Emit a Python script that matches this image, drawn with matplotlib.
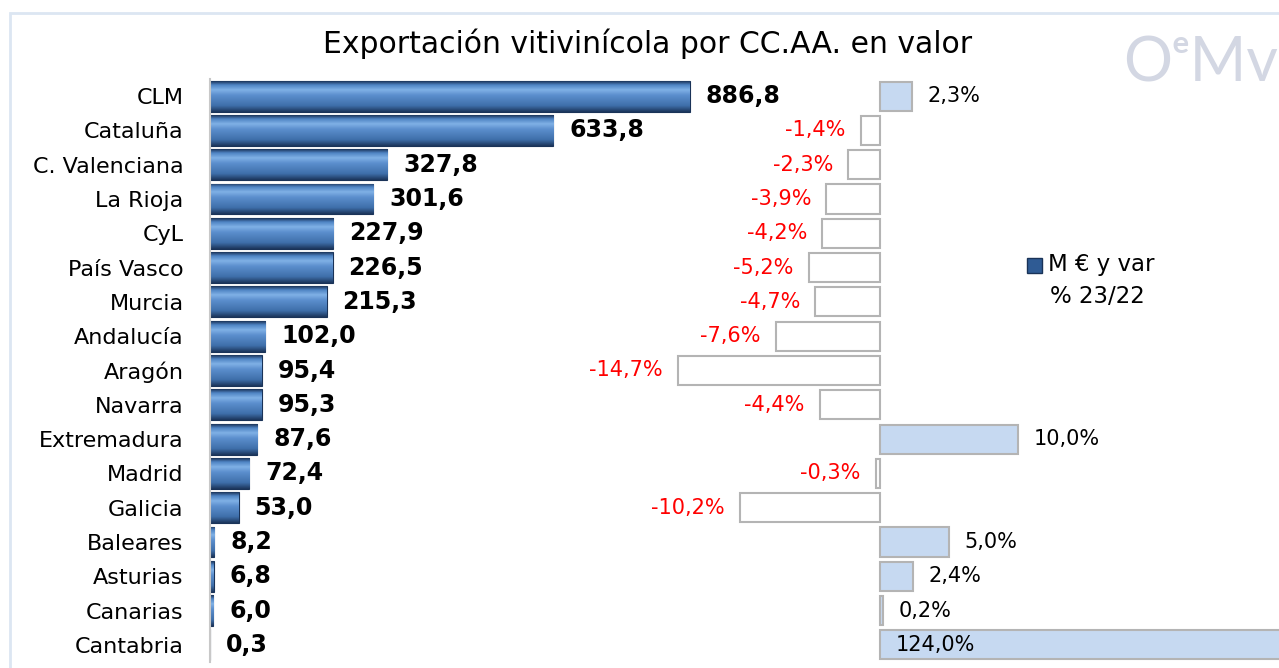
import matplotlib
matplotlib.use('Agg')
import matplotlib.pyplot as plt
import numpy as np
from matplotlib.colors import LinearSegmentedColormap
from matplotlib.patches import Rectangle

plt.rcParams['font.family'] = ['DejaVu Sans']

# Datos: exportación vitivinícola por comunidad autónoma
ccaa = ['CLM', 'Cataluña', 'C. Valenciana', 'La Rioja', 'CyL', 'País Vasco',
        'Murcia', 'Andalucía', 'Aragón', 'Navarra', 'Extremadura', 'Madrid',
        'Galicia', 'Baleares', 'Asturias', 'Canarias', 'Cantabria']
valor_meur = [886.8, 633.8, 327.8, 301.6, 227.9, 226.5, 215.3, 102.0, 95.4,
              95.3, 87.6, 72.4, 53.0, 8.2, 6.8, 6.0, 0.3]
var_pct = [2.3, -1.4, -2.3, -3.9, -4.2, -5.2, -4.7, -7.6, -14.7, -4.4, 10.0,
           -0.3, -10.2, 5.0, 2.4, 0.2, 124.0]

W, H = 1279, 668
fig = plt.figure(figsize=(W / 100, H / 100), dpi=100)

# marco azul claro
fig.add_artist(Rectangle((10 / W, -0.1), 1.2, 1.1 - 13 / H, transform=fig.transFigure,
                         fill=False, edgecolor='#dce6f2', linewidth=2))

x0, x1 = 210, 1279
ytop, ybot = 79, 662
rect = [x0 / W, 1 - ybot / H, (x1 - x0) / W, (ybot - ytop) / H]

ax = fig.add_axes(rect)
ax2 = fig.add_axes(rect)
ax2.patch.set_visible(False)

y = np.arange(len(ccaa))
ancho_px = x1 - x0
xmax1 = 886.8 * ancho_px / 480
px_pct = 13.75
xlim2 = (-(880 - x0) / px_pct, (x1 - 880) / px_pct)

# barras principales con degradado
cmap = LinearSegmentedColormap.from_list('bisel', [
    (0.0, '#1c365c'), (0.12, '#4f84c4'), (0.28, '#80b1e6'), (0.45, '#5c8fce'),
    (0.8, '#3f6faa'), (1.0, '#1c365c')])
grad = np.linspace(0, 1, 64).reshape(-1, 1)
h1 = 0.9
barras = ax.barh(y, valor_meur, height=h1, color='#3f6fa8', edgecolor='#1a3358',
                 linewidth=0.8)
for b, yi, v in zip(barras, y, valor_meur):
    im = ax.imshow(grad, cmap=cmap, aspect='auto', origin='upper',
                   extent=(0, v, yi + h1 / 2, yi - h1 / 2), zorder=2)
    im.set_clip_path(b)
    ax.annotate(f'{v:.1f}'.replace('.', ','), (v, yi), xytext=(11.5, 0),
                textcoords='offset points', ha='left', va='center',
                fontsize=17, fontweight='bold', color='black')

ax.set_xlim(0, xmax1)
ax.set_ylim(len(ccaa) - 0.5, -0.5)
ax.set_yticks(y)
ax.set_yticklabels(ccaa, fontsize=16)
ax.tick_params(axis='y', length=0, pad=19)
ax.set_xticks([])
for s in ['top', 'right', 'bottom']:
    ax.spines[s].set_visible(False)
ax.spines['left'].set_color('#c8c8c8')
ax.spines['left'].set_linewidth(1.5)

# barras de variación
colores = ['#c6d9f1' if p >= 0 else 'white' for p in var_pct]
ax2.barh(y, var_pct, height=0.85, color=colores, edgecolor='#b4b4b4',
         linewidth=1.5)
for yi, p in zip(y, var_pct):
    txt = f'{p:.1f}%'.replace('.', ',')
    if p < 0:
        ax2.annotate(txt, (p, yi), xytext=(-11, 0), textcoords='offset points',
                     ha='right', va='center', fontsize=15, color='#ff0000')
    elif p > xlim2[1]:
        ax2.annotate(txt, (0, yi), xytext=(11.5, 0), textcoords='offset points',
                     ha='left', va='center', fontsize=15, color='black')
    else:
        ax2.annotate(txt, (p, yi), xytext=(11.5, 0), textcoords='offset points',
                     ha='left', va='center', fontsize=15, color='black')
ax2.set_xlim(*xlim2)
ax2.set_ylim(len(ccaa) - 0.5, -0.5)
ax2.axis('off')

# título
fig.text(648 / W, 1 - 44 / H, 'Exportación vitivinícola por CC.AA. en valor',
         ha='center', va='center', fontsize=21.5)

# leyenda
fig.add_artist(Rectangle((1027 / W, 1 - 273 / H), 15 / W, 15 / H,
                         transform=fig.transFigure, facecolor='#2f5b94',
                         edgecolor='#1a3358', linewidth=1))
fig.text(1048 / W, 1 - 265 / H, 'M € y var', ha='left', va='center', fontsize=16.5)
fig.text(1050 / W, 1 - 297 / H, '% 23/22', ha='left', va='center', fontsize=16.5)

# logo
fig.text(1278 / W, 1 - 82 / H, 'OᵉMv', ha='right', va='baseline', fontsize=44,
         color='#d3d7e3', family=['Lato', 'DejaVu Sans'], fontweight='normal')

fig.savefig('out.png', dpi=100)
